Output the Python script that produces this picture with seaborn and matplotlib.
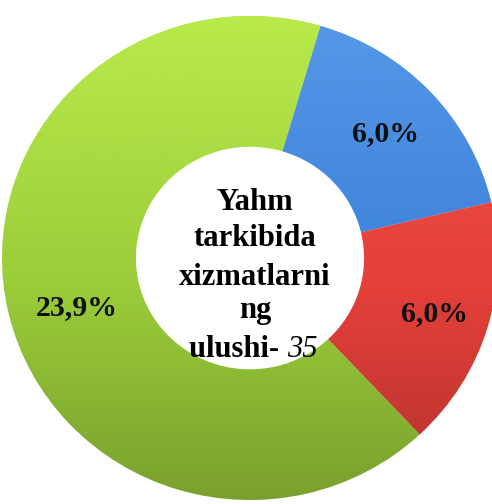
import matplotlib
matplotlib.use("Agg")
import matplotlib.pyplot as plt
import matplotlib.colors as mcolors
import seaborn as sns
import numpy as np

categories = ["A", "B", "C"]
values = [6.0, 6.0, 23.9]
labels = ["6,0%", "6,0%", "23,9%"]
center_lines = ["Yahm", "tarkibida", "xizmatlarni", "ng"]
center_last = "ulushi-"
center_num = "35"

colors = ["#3B82DA", "#E5403A", "#9BCD3A"]
highlights = ["#5A9AEA", "#F05A50", "#BDEE4E"]

sns.set_theme(style="white")
plt.rcParams["font.family"] = ["Liberation Serif", "DejaVu Serif"]

W, H = 492, 504
fig = plt.figure(figsize=(W / 100, H / 100), dpi=100)
ax = fig.add_axes([0, 0, 1, 1])
RX, RY = 248.0, 242.0
cx, cy = 250.0, 258.0

wedges, _ = ax.pie(values, colors=colors, startangle=73.5, counterclock=False,
                   radius=1.0, wedgeprops=dict(width=0.54, linewidth=0),
                   normalize=True)

# vertical shading: brighter tint at the top, darker towards the bottom
n = 256
t = np.linspace(0, 1, n)[:, None]
for w, hc in zip(wedges, highlights):
    rgb = np.array(mcolors.to_rgb(hc))
    light = np.clip(0.55 - t, 0, None) / 0.55 * 0.9
    dark = np.clip(t - 0.55, 0, None) / 0.45 * 0.22
    img = np.zeros((n, 2, 4))
    img[..., 0:3] = np.where((light > 0)[..., None], rgb, 0.0)
    img[..., 3] = (light + dark).repeat(2, axis=1)
    im = ax.imshow(img, extent=(-1, 1, -1, 1), origin="upper",
                   aspect="auto", interpolation="bilinear",
                   zorder=w.get_zorder() + 0.1)
    im.set_clip_path(w)

ax.set_xlim(-cx / RX, (W - cx) / RX)
ax.set_ylim(-(H - cy) / RY, cy / RY)
ax.set_aspect("auto")
ax.axis("off")

label_r = [0.75, 0.78, 0.73]
label_turn = [0.0, -0.5, 3.0]
for w, lab, r, tt in zip(wedges, labels, label_r, label_turn):
    mid = np.deg2rad((w.theta1 + w.theta2) / 2 + tt)
    ax.text(r * np.cos(mid), r * np.sin(mid), lab, ha="center", va="center",
            fontsize=21.5, fontweight="bold", color="#111111", zorder=5)

fs = 22
tx = 5 / RX
ys = [210, 246, 285, 318]
for line, y in zip(center_lines, ys):
    ax.text(tx, (cy - y) / RY, line, ha="center", va="baseline", fontsize=fs,
            fontweight="bold", color="black", zorder=5)
ylast = (cy - 357) / RY
ax.text(tx + 0.13, ylast, center_last + " ", ha="right", va="baseline", fontsize=fs,
        fontweight="bold", color="black", zorder=5)
ax.text(tx + 0.13, ylast, center_num, ha="left", va="baseline", fontsize=fs,
        fontstyle="italic", color="black", zorder=5)

fig.savefig("out.png", dpi=100)
